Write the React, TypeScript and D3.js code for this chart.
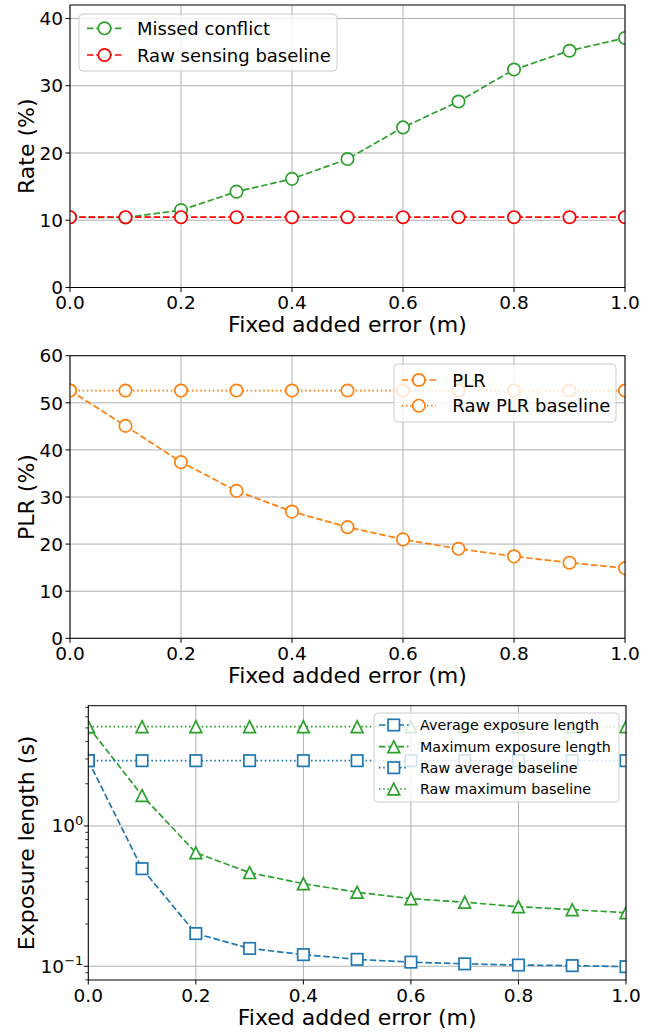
import React from 'react';
import * as d3 from 'd3';

// --- data ---
const errorSteps = [0, 0.1, 0.2, 0.3, 0.4, 0.5, 0.6, 0.7, 0.8, 0.9, 1.0];
const xTicks = [0, 0.2, 0.4, 0.6, 0.8, 1.0];

const missedConflict = [10.45, 10.4, 11.5, 14.25, 16.15, 19.1, 23.8, 27.65, 32.4, 35.2, 37.1];
const rawSensing = [10.45, 10.45, 10.45, 10.45, 10.45, 10.45, 10.45, 10.45, 10.45, 10.45, 10.45];
const rateTicks = [0, 10, 20, 30, 40];

const plr = [52.6, 45.1, 37.4, 31.3, 26.9, 23.6, 21.0, 19.0, 17.4, 16.05, 14.9];
const rawPlr = [52.6, 52.6, 52.6, 52.6, 52.6, 52.6, 52.6, 52.6, 52.6, 52.6, 52.6];
const plrTicks = [0, 10, 20, 30, 40, 50, 60];

const avgExposure = [2.92, 0.496, 0.171, 0.134, 0.121, 0.112, 0.107, 0.104, 0.102, 0.101, 0.0993];
const maxExposure = [5.1, 1.65, 0.645, 0.465, 0.388, 0.337, 0.303, 0.286, 0.266, 0.253, 0.241];
const rawAvgExposure = [2.92, 2.92, 2.92, 2.92, 2.92, 2.92, 2.92, 2.92, 2.92, 2.92, 2.92];
const rawMaxExposure = [5.1, 5.1, 5.1, 5.1, 5.1, 5.1, 5.1, 5.1, 5.1, 5.1, 5.1];
const expMajor = [0.1, 1];
const expMinor = [0.08, 0.09, 0.2, 0.3, 0.4, 0.5, 0.6, 0.7, 0.8, 0.9, 2, 3, 4, 5, 6, 7];

const GREEN = '#2ca02c', RED = '#ff0000', ORANGE = '#ff7f0e', BLUE = '#1f77b4';
const FONT = 'DejaVu Sans, sans-serif';
const DASH = '6.5,2.8', DOT = '1.6,2.6';

type Series = { name: string; values: number[]; color: string; dash: string; marker: 'circle' | 'square' | 'triangle' };

function Marker({ kind, x, y, color }: { kind: string; x: number; y: number; color: string }) {
  const sw = 1.7;
  if (kind === 'square') return <rect x={x - 5.7} y={y - 5.7} width={11.4} height={11.4} fill="#fff" stroke={color} strokeWidth={sw} />;
  if (kind === 'triangle') {
    const h = 5.9;
    return <path d={`M${x},${y - h}L${x - h},${y + h}L${x + h},${y + h}Z`} fill="#fff" stroke={color} strokeWidth={sw} strokeLinejoin="miter" />;
  }
  return <circle cx={x} cy={y} r={6.2} fill="#fff" stroke={color} strokeWidth={sw} />;
}

function Panel(props: {
  id: string; left: number; right: number; top: number; bottom: number;
  y: any; yTicks: number[]; minor?: number[]; logLabels?: boolean;
  series: Series[]; ylabel: string;
  legend: { x0: number; x1: number; y0: number; y1: number; rows: number[]; h0: number; h1: number; tx: number; fs: number };
}) {
  const { id, left, right, top, bottom, y, yTicks, minor, logLabels, series, ylabel, legend } = props;
  const x = d3.scaleLinear().domain([0, 1]).range([left, right]);
  const line = d3.line<number>().x((_, i) => x(errorSteps[i])).y(d => y(d));
  const midY = (top + bottom) / 2;
  return (
    <g>
      <defs>
        <clipPath id={id}><rect x={left} y={top} width={right - left} height={bottom - top} /></clipPath>
      </defs>
      {/* grid */}
      {xTicks.map(t => <line key={'gx' + t} x1={x(t)} x2={x(t)} y1={top} y2={bottom} stroke="#b0b0b0" strokeWidth={1} />)}
      {yTicks.map(t => <line key={'gy' + t} x1={left} x2={right} y1={y(t)} y2={y(t)} stroke="#b0b0b0" strokeWidth={1} />)}
      {/* series */}
      <g clipPath={`url(#${id})`}>
        {series.map(s => (
          <g key={s.name}>
            <path d={line(s.values) || ''} fill="none" stroke={s.color} strokeWidth={1.7} strokeDasharray={s.dash} />
            {s.values.map((v, i) => <Marker key={i} kind={s.marker} x={x(errorSteps[i])} y={y(v)} color={s.color} />)}
          </g>
        ))}
      </g>
      {/* frame */}
      <rect x={left} y={top} width={right - left} height={bottom - top} fill="none" stroke="#000" strokeWidth={1} />
      {/* x ticks */}
      {xTicks.map(t => (
        <g key={'xt' + t}>
          <line x1={x(t)} x2={x(t)} y1={bottom} y2={bottom + 4.5} stroke="#000" strokeWidth={1} />
          <text x={x(t)} y={bottom + 21.5} textAnchor="middle" fontSize={18.5} fontFamily={FONT}>{t.toFixed(1)}</text>
        </g>
      ))}
      <text x={(left + right) / 2} y={bottom + 44.5} textAnchor="middle" fontSize={22} fontFamily={FONT}>Fixed added error (m)</text>
      {/* y ticks */}
      {(minor || []).filter(t => y(t) <= bottom + 0.5 && y(t) >= top).map(t => (
        <line key={'ym' + t} x1={left - 3} x2={left} y1={y(t)} y2={y(t)} stroke="#000" strokeWidth={0.8} />
      ))}
      {yTicks.map(t => (
        <g key={'yt' + t}>
          <line x1={left - 4.5} x2={left} y1={y(t)} y2={y(t)} stroke="#000" strokeWidth={1} />
          {logLabels ? (
            <text x={left - 5} y={y(t) + 6.5} textAnchor="end" fontSize={18.5} fontFamily={FONT}>
              10<tspan fontSize={13} dy={-7.5}>{t === 1 ? '0' : '\u22121'}</tspan>
            </text>
          ) : (
            <text x={left - 7} y={y(t) + 6.7} textAnchor="end" fontSize={18.5} fontFamily={FONT}>{t}</text>
          )}
        </g>
      ))}
      <text transform={`translate(34,${midY}) rotate(-90)`} textAnchor="middle" fontSize={22} fontFamily={FONT}>{ylabel}</text>
      {/* legend */}
      <rect x={legend.x0} y={legend.y0} width={legend.x1 - legend.x0} height={legend.y1 - legend.y0} rx={4}
        fill="#fff" fillOpacity={0.8} stroke="#cccccc" strokeWidth={1} />
      {series.map((s, i) => {
        const ry = legend.rows[i];
        const mx = (legend.h0 + legend.h1) / 2;
        return (
          <g key={'lg' + s.name}>
            <line x1={legend.h0} x2={legend.h1} y1={ry} y2={ry} stroke={s.color} strokeWidth={1.7} strokeDasharray={s.dash} />
            <Marker kind={s.marker} x={mx} y={ry} color={s.color} />
            <text x={legend.tx} y={ry} dominantBaseline="central" fontSize={legend.fs} fontFamily={FONT}>{s.name}</text>
          </g>
        );
      })}
    </g>
  );
}

export default function App() {
  const y1 = d3.scaleLinear().domain([0, 42]).range([287.5, 5]);
  const y2 = d3.scaleLinear().domain([0, 60]).range([638.3, 355.7]);
  const y3 = d3.scaleLog().domain([0.0798, 7.2]).range([980, 705.7]);

  const s1: Series[] = [
    { name: 'Missed conflict', values: missedConflict, color: GREEN, dash: DASH, marker: 'circle' },
    { name: 'Raw sensing baseline', values: rawSensing, color: RED, dash: DASH, marker: 'circle' },
  ];
  const s2: Series[] = [
    { name: 'PLR', values: plr, color: ORANGE, dash: DASH, marker: 'circle' },
    { name: 'Raw PLR baseline', values: rawPlr, color: ORANGE, dash: DOT, marker: 'circle' },
  ];
  const s3: Series[] = [
    { name: 'Average exposure length', values: avgExposure, color: BLUE, dash: DASH, marker: 'square' },
    { name: 'Maximum exposure length', values: maxExposure, color: GREEN, dash: DASH, marker: 'triangle' },
    { name: 'Raw average baseline', values: rawAvgExposure, color: BLUE, dash: DOT, marker: 'square' },
    { name: 'Raw maximum baseline', values: rawMaxExposure, color: GREEN, dash: DOT, marker: 'triangle' },
  ];

  return (
    <svg width={657} height={1032} style={{ position: 'absolute', left: 0, top: 0, background: '#fff' }}>
      <rect width={657} height={1032} fill="#fff" />
      <Panel id="c1" left={70} right={625} top={5} bottom={287.5} y={y1} yTicks={rateTicks}
        series={s1} ylabel="Rate (%)"
        legend={{ x0: 79, x1: 337, y0: 14, y1: 71, rows: [28.3, 55], h0: 87, h1: 122, tx: 137, fs: 18 }} />
      <Panel id="c2" left={70} right={625} top={355.7} bottom={638.3} y={y2} yTicks={plrTicks}
        series={s2} ylabel="PLR (%)"
        legend={{ x0: 394, x1: 616, y0: 364, y1: 422, rows: [380, 405.7], h0: 401.7, h1: 436, tx: 452.3, fs: 18 }} />
      <Panel id="c3" left={88.3} right={626} top={705.7} bottom={980} y={y3} yTicks={expMajor} minor={expMinor} logLabels
        series={s3} ylabel="Exposure length (s)"
        legend={{ x0: 374, x1: 619, y0: 713, y1: 802, rows: [725, 746.7, 767.7, 789], h0: 379, h1: 408.5, tx: 420, fs: 14.3 }} />
    </svg>
  );
}
